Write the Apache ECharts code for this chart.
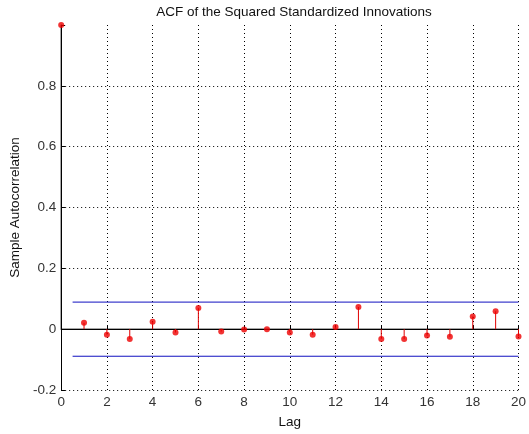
<!DOCTYPE html>
<html>
<head>
<meta charset="utf-8">
<script src="https://cdn.jsdelivr.net/npm/echarts@6/dist/echarts.min.js"></script>
<style>
  html, body { margin: 0; padding: 0; background: #fff; }
  #chart { width: 529px; height: 434px; }
</style>
</head>
<body>
<div id="chart"></div>
<script>
  // lags and sample autocorrelation values
  var lags = [0, 1, 2, 3, 4, 5, 6, 7, 8, 9, 10, 11, 12, 13, 14, 15, 16, 17, 18, 19, 20];
  var acf = [1, 0.021, -0.018, -0.032, 0.024, -0.011, 0.070, -0.008, -0.001, 0.000,
             -0.011, -0.018, 0.007, 0.073, -0.032, -0.032, -0.021, -0.025, 0.042, 0.059, -0.024];
  var upperBound = 0.089;
  var lowerBound = -0.089;
  var boundStart = 0.5;

  var points = lags.map(function (l, i) { return [l, acf[i]]; });

  var chart = echarts.init(document.getElementById('chart'));
  var font = 'Liberation Sans, Arial, sans-serif';

  var option = {
    animation: false,
    backgroundColor: '#fff',
    title: {
      text: 'ACF of the Squared Standardized Innovations',
      left: 289,
      textAlign: 'center',
      top: 0,
      textStyle: { fontSize: 13.5, fontWeight: 'normal', color: '#111', fontFamily: font }
    },
    grid: { left: 61, right: 5, top: 25, bottom: 43 },
    xAxis: {
      type: 'value',
      min: 0,
      max: 20,
      interval: 2,
      name: 'Lag',
      nameLocation: 'middle',
      nameGap: 25,
      nameTextStyle: { fontSize: 13.5, color: '#111', fontFamily: font },
      axisLine: { lineStyle: { color: '#000', width: 1 } },
      axisTick: { inside: true, length: 4, lineStyle: { color: '#000' } },
      axisLabel: { fontSize: 13.5, color: '#333', fontFamily: font, margin: 5 },
      splitLine: { show: true, lineStyle: { color: '#000', type: [1, 3], width: 1 } }
    },
    yAxis: {
      type: 'value',
      min: -0.2,
      max: 1,
      interval: 0.2,
      name: 'Sample Autocorrelation',
      nameLocation: 'middle',
      nameGap: 37,
      nameTextStyle: { fontSize: 13.5, color: '#111', fontFamily: font },
      axisLine: { show: true, lineStyle: { color: '#000', width: 1 } },
      axisTick: { show: true, inside: true, length: 4, lineStyle: { color: '#000' } },
      axisLabel: {
        fontSize: 13.5, color: '#333', fontFamily: font, margin: 5,
        formatter: function (v) {
          if (Math.abs(v - 1) < 1e-9) return '';
          if (Math.abs(v) < 1e-9) return '0';
          return (+v.toFixed(1)).toString();
        }
      },
      splitLine: { show: true, showMaxLine: false, lineStyle: { color: '#000', type: [1, 3], width: 1 } }
    },
    series: [
      {
        // zero baseline
        type: 'line',
        data: [[0, 0], [20, 0]],
        symbol: 'none',
        lineStyle: { color: '#000', width: 1 },
        z: 3
      },
      {
        type: 'line',
        data: [[boundStart, upperBound], [20, upperBound]],
        symbol: 'none',
        lineStyle: { color: '#1010c0', width: 1 },
        z: 3
      },
      {
        type: 'line',
        data: [[boundStart, lowerBound], [20, lowerBound]],
        symbol: 'none',
        lineStyle: { color: '#1010c0', width: 1 },
        z: 3
      },
      {
        // stems
        type: 'custom',
        data: points,
        z: 4,
        renderItem: function (params, api) {
          var top = api.coord([api.value(0), api.value(1)]);
          var base = api.coord([api.value(0), 0]);
          return {
            type: 'line',
            shape: { x1: top[0], y1: top[1], x2: base[0], y2: base[1] },
            style: { stroke: api.value(0) === 0 ? '#000' : '#e00000', lineWidth: 1 }
          };
        }
      },
      {
        type: 'scatter',
        data: points,
        symbol: 'circle',
        symbolSize: 6,
        itemStyle: { color: '#ee0000' },
        z: 5
      }
    ]
  };

  chart.setOption(option);
</script>
</body>
</html>
